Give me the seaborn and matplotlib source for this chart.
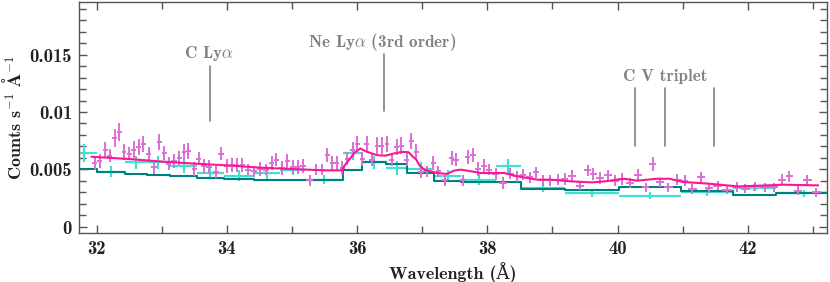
import numpy as np
import pandas as pd
import matplotlib
matplotlib.use("Agg")
import matplotlib.pyplot as plt
import seaborn as sns
from matplotlib.ticker import MultipleLocator

# ---------------- data ----------------
mag_x = [31.97, 32.05, 32.13, 32.20, 32.28, 32.35, 32.42, 32.50, 32.57, 32.65,
         32.72, 32.80, 32.88, 32.96, 33.04, 33.11, 33.19, 33.27, 33.34, 33.41,
         33.50, 33.57, 33.65, 33.73, 33.83, 33.91, 34.00, 34.08, 34.15, 34.24,
         34.33, 34.42, 34.51, 34.60, 34.69, 34.76, 34.85, 34.93, 35.01, 35.09,
         35.17, 35.27, 35.37, 35.46, 35.54, 35.62, 35.69, 35.77, 35.85, 35.93,
         36.00, 36.08, 36.15, 36.23, 36.31, 36.38, 36.46, 36.53, 36.61, 36.68,
         36.76, 36.83, 36.91, 36.98, 37.08, 37.17, 37.25, 37.35, 37.45, 37.52,
         37.62, 37.70, 37.78, 37.86, 37.95, 38.03, 38.13, 38.24, 38.35, 38.45,
         38.55, 38.65, 38.75, 38.85, 38.96, 39.08, 39.19, 39.30, 39.42, 39.54,
         39.63, 39.73, 39.85, 39.96, 40.07, 40.19, 40.31, 40.43, 40.54, 40.65,
         40.78, 40.92, 41.03, 41.15, 41.28, 41.40, 41.54, 41.68, 41.83, 41.96,
         42.11, 42.26, 42.40, 42.53, 42.64, 42.77, 42.91, 43.05]
mag_y = [0.00556, 0.0057, 0.00667, 0.0062, 0.00775, 0.00828, 0.00652, 0.00638, 0.00673, 0.00696,
         0.00723, 0.00638, 0.00521, 0.0074, 0.00644, 0.0055, 0.0057, 0.006, 0.0065, 0.00658,
         0.00503, 0.00594, 0.00526, 0.00521, 0.00477, 0.00638, 0.00532, 0.0054, 0.0054, 0.0054,
         0.00497, 0.00482, 0.00503, 0.00497, 0.00556, 0.00585, 0.00512, 0.0057, 0.00518, 0.00521,
         0.00532, 0.00404, 0.00497, 0.00497, 0.00623, 0.00556, 0.00556, 0.00512, 0.00594, 0.00667,
         0.00717, 0.00591, 0.00717, 0.00585, 0.00708, 0.00708, 0.00717, 0.00585, 0.00696, 0.00708,
         0.00585, 0.00746, 0.0065, 0.00477, 0.00482, 0.00556, 0.00482, 0.00404, 0.006, 0.00585,
         0.00404, 0.00609, 0.00623, 0.00506, 0.00526, 0.00497, 0.0046, 0.00381, 0.00462, 0.00439,
         0.00453, 0.0043, 0.00474, 0.00404, 0.00404, 0.0041, 0.00416, 0.00445, 0.00357, 0.00491,
         0.0046, 0.00424, 0.00448, 0.00401, 0.00416, 0.00381, 0.00453, 0.00342, 0.00547, 0.00386,
         0.00342, 0.0041, 0.00401, 0.00328, 0.0043, 0.00337, 0.00357, 0.00322, 0.00346, 0.0033,
         0.00351, 0.00342, 0.00342, 0.0041, 0.00439, 0.00313, 0.00404, 0.00298]
mag_yerr_e4 = [6, 6, 7, 6, 8, 8, 7, 6, 7, 7,
               7, 6, 6, 7, 6, 6, 6, 6, 7, 7,
               6, 6, 6, 6, 5, 6, 6, 6, 6, 6,
               5, 5, 6, 5, 6, 6, 6, 6, 6, 6,
               6, 5, 5, 5, 6, 6, 6, 6, 6, 7,
               7, 6, 7, 6, 7, 7, 7, 6, 7, 7,
               6, 7, 7, 5, 5, 6, 5, 5, 6, 6,
               5, 6, 6, 6, 6, 5, 5, 5, 5, 5,
               5, 5, 5, 5, 5, 5, 5, 5, 4, 5,
               5, 5, 5, 5, 5, 4, 5, 4, 6, 4,
               4, 5, 5, 4, 5, 4, 4, 4, 4, 4,
               4, 4, 4, 5, 5, 4, 5, 4]

cyan_edges = [31.6, 32.0, 32.44, 32.77, 33.13, 33.54, 33.95, 34.41, 34.82, 35.2, 35.78,
              36.08, 36.45, 36.77, 37.18, 37.6, 38.14, 38.51, 39.2, 40.02, 40.97,
              41.77, 42.43, 43.3]
cyan_y = [0.0064, 0.0048, 0.0056, 0.0056, 0.00526, 0.0047, 0.00445, 0.00468, 0.00497, 0.0041,
          0.0064, 0.0056, 0.0051, 0.0050, 0.0044, 0.0041, 0.0053, 0.0034, 0.0029, 0.0027,
          0.0030, 0.0034, 0.0029]
cyan_yerr_e4 = [8, 5, 6, 6, 6, 5, 5, 5, 5, 4, 6, 6, 6, 6, 5, 5, 6, 4, 3, 3, 3, 3, 3]

teal_y = [0.00505, 0.00477, 0.00462, 0.00447, 0.00439, 0.00425, 0.00418, 0.0041, 0.0041, 0.00405,
          0.00497, 0.0056, 0.0055, 0.00468, 0.00395, 0.00392, 0.00388, 0.0033, 0.00316, 0.00342,
          0.00307, 0.00278, 0.00293]

pink_x = [31.92, 32.5, 33.0, 33.5, 34.0, 34.5, 35.0, 35.5, 35.77, 35.80, 35.87, 35.97, 36.05,
          36.13, 36.20, 36.31, 36.44, 36.56, 36.69, 36.79, 36.85, 36.91, 36.95, 37.03, 37.13,
          37.23, 37.38, 37.49, 37.59, 37.69, 37.9, 38.26, 38.46, 38.77, 38.97, 39.29, 39.6,
          39.8, 40.1, 40.3, 40.6, 40.8, 41.0, 41.4, 41.85, 42.15, 42.56, 43.08]
pink_y = [0.0061, 0.0059, 0.00568, 0.0055, 0.00535, 0.00515, 0.00503, 0.00491, 0.00491, 0.00526,
          0.00579, 0.0065, 0.00682, 0.00658, 0.00644, 0.00623, 0.0062, 0.00638, 0.00652, 0.0065,
          0.00614, 0.00585, 0.00541, 0.00497, 0.00482, 0.00468, 0.0046, 0.00489, 0.00497, 0.00489,
          0.00468, 0.00468, 0.00439, 0.0041, 0.0041, 0.00395, 0.00386, 0.00395, 0.00418, 0.00401,
          0.00418, 0.00418, 0.0039, 0.00375, 0.00351, 0.00357, 0.00366, 0.0036]

line_labels = ["C Ly$\\alpha$", "Ne Ly$\\alpha$ (3rd order)", "C V triplet"]
cly_x = [33.74]
ne_x = [36.41]
cv_x = [40.27, 40.73, 41.48]

# ---------------- style ----------------
sns.set_theme(style="ticks")
plt.rcParams["font.family"] = ["cmb10", "DejaVu Serif"]
plt.rcParams["mathtext.fontset"] = "cm"
plt.rcParams["axes.unicode_minus"] = False
plt.rcParams["axes.formatter.use_mathtext"] = False

MAG = "#da70d6"
PINK = "#ff1493"
CYAN = "#40e0d0"
TEAL = "#008080"
GRAY = "#808080"
SPINE = "#555555"
TXT = "#222222"

fig = plt.figure(figsize=(8.3, 2.82), dpi=100)
ax = fig.add_axes([0.0952, 0.1727, 0.9015, 0.8202])

# cyan data (wide bins)
edges = np.array(cyan_edges)
cx = (edges[:-1] + edges[1:]) / 2
cxerr = (edges[1:] - edges[:-1]) / 2
ax.errorbar(cx, cyan_y, xerr=cxerr, yerr=np.array(cyan_yerr_e4) * 1e-4,
            fmt="none", ecolor=CYAN, elinewidth=1.6, capsize=0, zorder=2)

# teal model (steps)
teal_df = pd.DataFrame({"x": cyan_edges, "y": teal_y + [teal_y[-1]]})
sns.lineplot(data=teal_df, x="x", y="y", ax=ax, color=TEAL, lw=1.5,
             drawstyle="steps-post", estimator=None, zorder=3)

# magenta data
mx = np.array(mag_x)
mxerr = np.gradient(mx) / 2
ax.errorbar(mx, mag_y, xerr=mxerr, yerr=np.array(mag_yerr_e4) * 1e-4,
            fmt="none", ecolor=MAG, elinewidth=1.4, capsize=0, zorder=4)

# pink model
pink_df = pd.DataFrame({"x": pink_x, "y": pink_y})
sns.lineplot(data=pink_df, x="x", y="y", ax=ax, color=PINK, lw=1.5,
             estimator=None, zorder=5)

# line markers
ANN = 12.3
for lx in cly_x:
    ax.plot([lx, lx], [0.00918, 0.0140], color=GRAY, lw=1.2)
ax.text(33.72, 0.0151, line_labels[0], color=GRAY, fontsize=ANN,
        ha="center", va="center")
for lx in ne_x:
    ax.plot([lx, lx], [0.01006, 0.01506], color=GRAY, lw=1.2)
ax.text(36.38, 0.0161, line_labels[1], color=GRAY, fontsize=ANN,
        ha="center", va="center")
for lx in cv_x:
    ax.plot([lx, lx], [0.00708, 0.01207], color=GRAY, lw=1.2)
ax.text(40.73, 0.0131, line_labels[2], color=GRAY, fontsize=ANN,
        ha="center", va="center")

ax.set_xlim(31.73, 43.22)
ax.set_ylim(-0.00058, 0.0196)
ax.xaxis.set_minor_locator(MultipleLocator(1))
ax.yaxis.set_minor_locator(MultipleLocator(0.001))
ax.set_yticks([0, 0.005, 0.01, 0.015])
ax.set_yticklabels(["0", "0.005", "0.01", "0.015"])
ax.set_xticks([32, 34, 36, 38, 40, 42])
ax.set_xticklabels(["32", "34", "36", "38", "40", "42"])

ax.tick_params(which="both", direction="in", top=True, right=True,
               color=SPINE, width=1.0, labelsize=13.5, labelcolor=TXT)
ax.tick_params(which="major", length=6, pad=5)
ax.tick_params(which="minor", length=5)
for s in ax.spines.values():
    s.set_color(SPINE)
    s.set_linewidth(1.0)

ax.set_xlabel("Wavelength (Å)", fontsize=13, color=TXT, labelpad=3)
ax.set_ylabel(r"Counts s$^{-1}$ $\mathbf{\AA}^{-1}$", fontsize=13, color=TXT, labelpad=4)

fig.savefig("out.png", dpi=100)
